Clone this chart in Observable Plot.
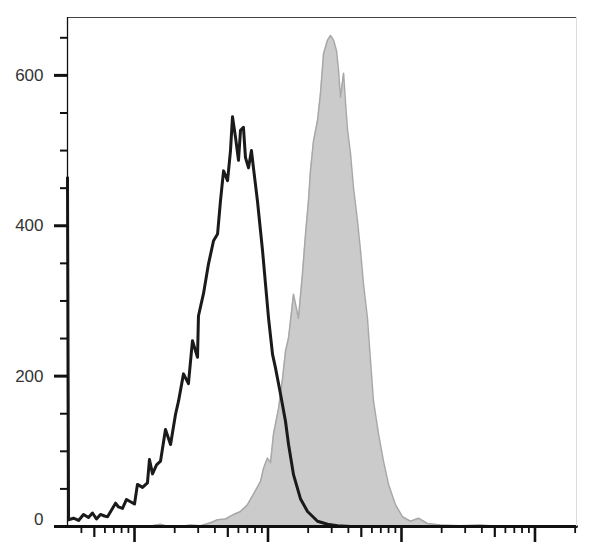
<!DOCTYPE html>
<html>
<head>
<meta charset="utf-8">
<script src="https://cdn.jsdelivr.net/npm/d3@7"></script>
<script src="https://cdn.jsdelivr.net/npm/@observablehq/plot@0.6"></script>
<style>
  html, body { margin: 0; padding: 0; background: #fff; }
  #chart { width: 608px; height: 545px; }
</style>
</head>
<body>
<div id="chart"></div>
<script>
// x values are log10 fluorescence (decade units); y values are event counts
const controlLog = [1.498,1.506,1.543,1.581,1.618,1.655,1.685,1.715,1.745,1.775,1.798,1.828,1.858,1.880,1.910,1.940,1.970,2.000,2.022,2.060,2.097,2.112,2.135,2.165,2.195,2.232,2.270,2.307,2.330,2.367,2.404,2.434,2.472,2.479,2.517,2.554,2.592,2.622,2.644,2.667,2.697,2.719,2.734,2.757,2.779,2.794,2.816,2.831,2.854,2.876,2.891,2.921,2.944,2.959,2.981,3.004,3.034,3.056,3.094,3.131,3.154,3.191,3.243,3.296,3.371,3.446,3.521,3.618,4.000,5.311];
const controlCount = [464,9,11,8,16,12,18,10,16,14,13,22,31,26,24,36,33,30,56,52,58,89,70,82,87,129,109,149,167,203,190,247,225,280,310,349,380,389,433,473,460,500,545,517,487,527,531,491,477,500,477,433,393,367,323,277,229,211,176,140,109,69,37,20,7,3,1,0,0,0];

const stainedLog = [1.498,2.100,2.195,2.250,2.345,2.419,2.494,2.569,2.622,2.682,2.742,2.794,2.846,2.891,2.944,2.966,2.996,3.019,3.041,3.079,3.109,3.131,3.154,3.191,3.228,3.258,3.281,3.303,3.318,3.341,3.371,3.393,3.416,3.446,3.468,3.491,3.513,3.528,3.543,3.566,3.581,3.596,3.618,3.640,3.670,3.693,3.715,3.745,3.768,3.790,3.828,3.865,3.903,3.955,4.007,4.067,4.127,4.195,4.292,4.442,4.592,4.742,5.311];
const stainedCount = [0,0,3,0,0,2,1,5,9,10,16,20,29,43,60,77,91,85,123,157,197,233,251,309,277,336,389,433,473,513,540,576,629,647,653,647,633,607,571,603,563,527,496,451,407,367,323,277,220,167,123,87,56,29,13,7,11,4,2,1,2,0,0];

const yMajorTicks = [0, 200, 400, 600];
const yMinorTicks = [50,100,150,250,300,350,450,500,550,650];
const decades = [1, 2, 3, 4, 5];
const minorMultipliers = [2, 3, 4, 6, 7, 8, 9];
const xDomain = [1.498, 5.311];
const yDomain = [0, 677];

const control = controlLog.map((x, i) => ({x, y: controlCount[i]}));
const stained = stainedLog.map((x, i) => ({x, y: stainedCount[i]}));

const inDomain = v => v >= xDomain[0] && v <= xDomain[1];
const xMajor = decades.filter(inDomain);
const xMid = decades.map(d => d + Math.log10(5)).filter(inDomain);
const xMinor = decades.flatMap(d => minorMultipliers.map(m => d + Math.log10(m))).filter(inDomain);

const blank = () => "";

const chart = Plot.plot({
  width: 608,
  height: 545,
  marginLeft: 67,
  marginRight: 32,
  marginTop: 17,
  marginBottom: 19,
  style: {fontFamily: "'Liberation Sans', Arial, sans-serif", background: "#fff"},
  x: {domain: xDomain, label: null},
  y: {domain: yDomain, label: null},
  marks: [
    Plot.areaY(stained, {x: "x", y: "y", fill: "#cbcbcb", curve: "linear"}),
    Plot.lineY(stained, {x: "x", y: "y", stroke: "#a8a8a8", strokeWidth: 1.5, curve: "linear"}),
    Plot.lineY(control, {x: "x", y: "y", stroke: "#1a1a1a", strokeWidth: 3, curve: "linear"}),
    // frame
    Plot.ruleY([yDomain[1]], {stroke: "#444", strokeWidth: 1.2}),
    Plot.ruleX([xDomain[1]], {stroke: "#dcdcdc", strokeWidth: 1}),
    Plot.ruleX([xDomain[0]], {stroke: "#111", strokeWidth: 1.3}),
    Plot.ruleY([0], {stroke: "#111", strokeWidth: 3}),
    // x ticks
    Plot.axisX(xMajor, {tickSize: 16, tickFormat: blank, label: null, stroke: "#111", strokeWidth: 2.6}),
    Plot.axisX(xMid, {tickSize: 11, tickFormat: blank, label: null, stroke: "#111", strokeWidth: 2.2}),
    Plot.axisX(xMinor, {tickSize: 7, tickFormat: blank, label: null, stroke: "#111", strokeWidth: 1.8}),
    // y ticks
    Plot.axisY(yMajorTicks, {tickSize: 13, tickFormat: blank, label: null, stroke: "#111", strokeWidth: 3}),
    Plot.axisY(yMinorTicks, {tickSize: 7, tickFormat: blank, label: null, stroke: "#111", strokeWidth: 2}),
    // y labels
    Plot.text(yMajorTicks.filter(d => d > 0), {x: xDomain[0], y: d => d, text: d => String(d), dx: -24, textAnchor: "end", fontSize: 17, fill: "#333"}),
    Plot.text([0], {x: xDomain[0], y: d => d, text: d => String(d), dx: -24, dy: -7, textAnchor: "end", fontSize: 17, fill: "#333"})
  ]
});
document.getElementById("chart").appendChild(chart);
</script>
</body>
</html>
